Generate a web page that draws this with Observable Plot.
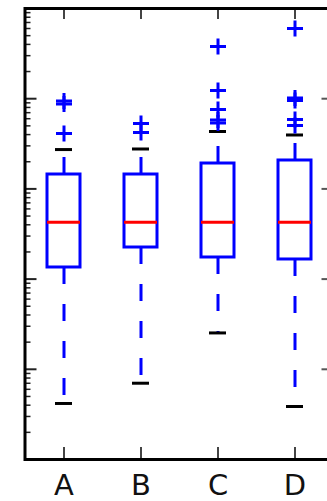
<!DOCTYPE html>
<html><head><meta charset="utf-8">
<script src="https://cdn.jsdelivr.net/npm/d3@7"></script>
<script src="https://cdn.jsdelivr.net/npm/@observablehq/plot@0.6"></script>
<style>
html,body{margin:0;padding:0;background:#fff;overflow:hidden}
#wrap{width:327px;height:501px;overflow:hidden}
#wrap svg{max-width:none}
</style></head><body><div id="wrap"></div>
<script>
// Data (log-scale values)
const categories = ["A", "B", "C", "D"];
const whiskerLow = [0.00418, 0.00701, 0.0253, 0.00387];
const q1 = [0.1345, 0.224, 0.1736, 0.165];
const median = [0.427, 0.427, 0.427, 0.427];
const q3 = [1.444, 1.444, 1.912, 2.065];
const whiskerHigh = [2.73, 2.77, 4.33, 3.96];
const outliersA = [9.43, 8.73, 4.11];
const outliersB = [5.31, 4.22];
const outliersC = [37.9, 12.3, 7.59, 5.81, 5.38];
const outliersD = [60.0, 10.18, 9.55, 5.88, 5.05];
const majorTicks = [0.001, 0.01, 0.1, 1, 10, 100];
const minorMultipliers = [2, 3, 4, 5, 6, 7, 8, 9];

const boxes = categories.map((c, i) => ({cat: c, lo: whiskerLow[i], q1: q1[i], med: median[i], q3: q3[i], hi: whiskerHigh[i]}));
const outlierLists = [outliersA, outliersB, outliersC, outliersD];
const outliers = categories.flatMap((c, i) => outlierLists[i].map(v => ({cat: c, v})));
const minorTicks = majorTicks.slice(0, -1).flatMap(d => minorMultipliers.map(m => d * m));

const W = 334, H = 501, mL = 24.5, mR = 0.5, mT = 8, mB = 42;
const fw = W - mL - mR, fh = H - mT - mB;

const plusSymbol = {
  draw(ctx, size) {
    const r = Math.sqrt(size / Math.PI);
    ctx.moveTo(-r, 0); ctx.lineTo(r, 0);
    ctx.moveTo(0, -r); ctx.lineTo(0, r);
  }
};

const chart = Plot.plot({
  width: W, height: H,
  marginLeft: mL, marginRight: mR, marginTop: mT, marginBottom: mB,
  style: {fontFamily: "DejaVu Sans", fontSize: "29px", background: "#fff", color: "#111"},
  x: {type: "band", domain: categories, paddingInner: 0.573, paddingOuter: 0.2865},
  y: {type: "log", domain: [0.001, 100], axis: null},
  marks: [
    Plot.tickY(minorTicks, {y: d => d, insetRight: fw - 6, stroke: "#222", strokeWidth: 1.5}),
    Plot.tickY(majorTicks, {y: d => d, insetRight: fw - 12, stroke: "#222", strokeWidth: 2}),
    Plot.tickY(minorTicks, {y: d => d, insetLeft: fw - 6, stroke: "#555", strokeWidth: 1.5}),
    Plot.tickY(majorTicks, {y: d => d, insetLeft: fw - 12, stroke: "#555", strokeWidth: 2}),
    Plot.tickX(categories, {x: d => d, insetBottom: fh - 11, stroke: "#444", strokeWidth: 2}),
    Plot.tickX(categories, {x: d => d, insetTop: fh - 12, stroke: "#444", strokeWidth: 2}),
    Plot.ruleX(boxes, {x: "cat", y1: "q3", y2: "hi", stroke: "blue", strokeWidth: 3, strokeDasharray: "17,20"}),
    Plot.ruleX(boxes, {x: "cat", y1: "q1", y2: "lo", stroke: "blue", strokeWidth: 3, strokeDasharray: "17,20"}),
    Plot.tickY(boxes, {x: "cat", y: "hi", stroke: "#000", strokeWidth: 3, insetLeft: 8, insetRight: 8}),
    Plot.tickY(boxes, {x: "cat", y: "lo", stroke: "#000", strokeWidth: 3, insetLeft: 8, insetRight: 8}),
    Plot.barY(boxes, {x: "cat", y1: "q1", y2: "q3", fill: "none", stroke: "blue", strokeWidth: 3}),
    Plot.tickY(boxes, {x: "cat", y: "med", stroke: "red", strokeWidth: 3}),
    Plot.dot(outliers, {x: "cat", y: "v", symbol: plusSymbol, r: 8, fill: "none", stroke: "blue", strokeWidth: 3}),
    Plot.frame({stroke: "#000", strokeWidth: 3}),
    Plot.axisX({anchor: "bottom", tickSize: 0, tickPadding: 15, label: null, fill: "#111"})
  ]
});
document.getElementById("wrap").appendChild(chart);
</script>
</body></html>
